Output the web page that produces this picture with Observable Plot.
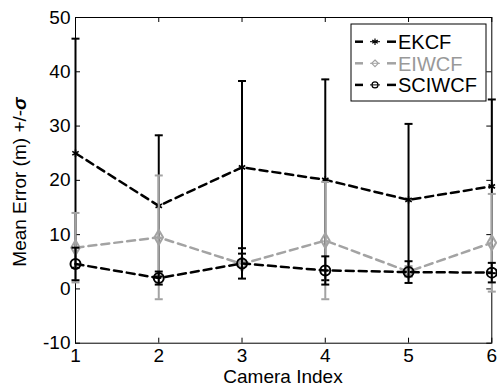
<!DOCTYPE html>
<html>
<head>
<meta charset="utf-8">
<script src="https://cdn.jsdelivr.net/npm/d3@7"></script>
<script src="https://cdn.jsdelivr.net/npm/@observablehq/plot@0.6"></script>
<style>
  html, body { margin: 0; padding: 0; background: white; }
  #chart { width: 497px; height: 386px; }
</style>
</head>
<body>
<div id="chart"></div>
<script>
const cameras = [1, 2, 3, 4, 5, 6];
const seriesNames = ["EKCF", "EIWCF", "SCIWCF"];
const ekcfMean   = [25.0, 15.3, 22.4, 20.1, 16.4, 18.9];
const ekcfStd    = [21.1, 13.0, 15.9, 18.5, 14.0, 16.0];
const eiwcfMean  = [7.6, 9.5, 4.6, 8.9, 3.2, 8.5];
const eiwcfStd   = [6.4, 11.4, 0.5, 10.8, 1.0, 9.0];
const sciwcfMean = [4.6, 2.0, 4.7, 3.4, 3.1, 3.0];
const sciwcfStd  = [3.0, 1.2, 2.8, 2.6, 2.0, 1.8];
const xTicks = [1, 2, 3, 4, 5, 6];
const yTicks = [-10, 0, 10, 20, 30, 40, 50];
const xLabel = "Camera Index";
const yLabel = "Mean Error (m) +/-";
const yLabelSym = "σ";

const styles = {
  EKCF:   {color: "black",   symbol: "asterisk", r: 3.5, sw: 1.6},
  EIWCF:  {color: "#a3a3a3", symbol: "diamond",  r: 4.5, sw: 2},
  SCIWCF: {color: "black",   symbol: "circle",   r: 5,   sw: 2}
};

function build(name, means, stds) {
  return cameras.map((c, i) => ({series: name, camera: c, mean: means[i], lo: means[i] - stds[i], hi: means[i] + stds[i]}));
}
const tables = [
  build("EKCF", ekcfMean, ekcfStd),
  build("EIWCF", eiwcfMean, eiwcfStd),
  build("SCIWCF", sciwcfMean, sciwcfStd)
];

const cap = {draw(ctx, size) { const w = Math.sqrt(size / Math.PI); ctx.moveTo(-w, 0); ctx.lineTo(w, 0); }};

const W = 497, H = 386, mL = 75, mR = 5.7, mT = 17, mB = 43.3;
const pw = W - mL - mR, ph = H - mT - mB, tk = 5;

const marks = [
  Plot.frame({stroke: "black", strokeWidth: 1}),
  Plot.tickX(xTicks, {x: d => d, insetTop: ph - tk, stroke: "black"}),
  Plot.tickX(xTicks, {x: d => d, insetBottom: ph - tk, stroke: "black"}),
  Plot.tickY(yTicks, {y: d => d, insetRight: pw - tk, stroke: "black"}),
  Plot.tickY(yTicks, {y: d => d, insetLeft: pw - tk, stroke: "black"}),
  Plot.axisX({ticks: xTicks, tickSize: 0, tickPadding: 5, tickFormat: d => String(d), label: null}),
  Plot.axisY({ticks: yTicks, tickSize: 0, tickPadding: 5, tickFormat: d => String(d), label: null})
];

tables.forEach(t => {
  const s = styles[t[0].series];
  marks.push(
    Plot.ruleX(t, {x: "camera", y1: "lo", y2: "hi", stroke: s.color, strokeWidth: 2}),
    Plot.dot(t, {x: "camera", y: "hi", symbol: cap, r: 4, stroke: s.color, strokeWidth: 2}),
    Plot.dot(t, {x: "camera", y: "lo", symbol: cap, r: 4, stroke: s.color, strokeWidth: 2}),
    Plot.line(t, {x: "camera", y: "mean", stroke: s.color, strokeWidth: 2.5, strokeDasharray: "8,5"}),
    Plot.dot(t, {x: "camera", y: "mean", symbol: s.symbol, r: s.r, stroke: s.color, strokeWidth: s.sw, fill: "none"})
  );
});

const chart = Plot.plot({
  width: W, height: H,
  marginLeft: mL, marginRight: mR, marginTop: mT, marginBottom: mB,
  style: {fontFamily: "'Liberation Sans', Arial, sans-serif", fontSize: "19px", color: "black", background: "white", overflow: "visible"},
  x: {type: "linear", domain: [1, 6]},
  y: {type: "linear", domain: [-10, 50]},
  marks
});
document.getElementById("chart").appendChild(chart);

const svg = d3.select(chart);
// y label
const yl = svg.append("text")
  .attr("transform", "translate(26,182) rotate(-90)")
  .attr("text-anchor", "middle")
  .attr("font-size", 19)
  .attr("fill", "black");
yl.append("tspan").text(yLabel);
yl.append("tspan").attr("font-weight", "bold").attr("font-style", "italic").text(yLabelSym);
// x label
svg.append("text")
  .attr("x", 283).attr("y", 383)
  .attr("text-anchor", "middle")
  .attr("font-size", 19)
  .attr("fill", "black")
  .text(xLabel);

// legend
const lg = svg.append("g");
lg.append("rect").attr("x", 351).attr("y", 24).attr("width", 135).attr("height", 77)
  .attr("fill", "white").attr("stroke", "black").attr("stroke-width", 1);
seriesNames.forEach((name, i) => {
  const s = styles[name];
  const y = 41.7 + i * 21.6;
  lg.append("line").attr("x1", 355).attr("x2", 363).attr("y1", y).attr("y2", y)
    .attr("stroke", s.color).attr("stroke-width", 2.5);
  lg.append("line").attr("x1", 387).attr("x2", 396).attr("y1", y).attr("y2", y)
    .attr("stroke", s.color).attr("stroke-width", 2.5);
  const symType = {asterisk: d3.symbolAsterisk, diamond: d3.symbolDiamond2, circle: d3.symbolCircle}[s.symbol];
  lg.append("path").attr("d", d3.symbol(symType, 28)())
    .attr("transform", `translate(375,${y})`)
    .attr("fill", "none").attr("stroke", s.color).attr("stroke-width", 1.2);
  lg.append("line").attr("x1", 370).attr("x2", 380).attr("y1", y).attr("y2", y)
    .attr("stroke", s.color).attr("stroke-width", 1);
  lg.append("text").attr("x", 398).attr("y", y).attr("dy", "0.36em")
    .attr("text-anchor", "start")
    .attr("font-size", 20).attr("fill", s.color === "black" ? "black" : "#999")
    .text(name);
});
</script>
</body>
</html>
